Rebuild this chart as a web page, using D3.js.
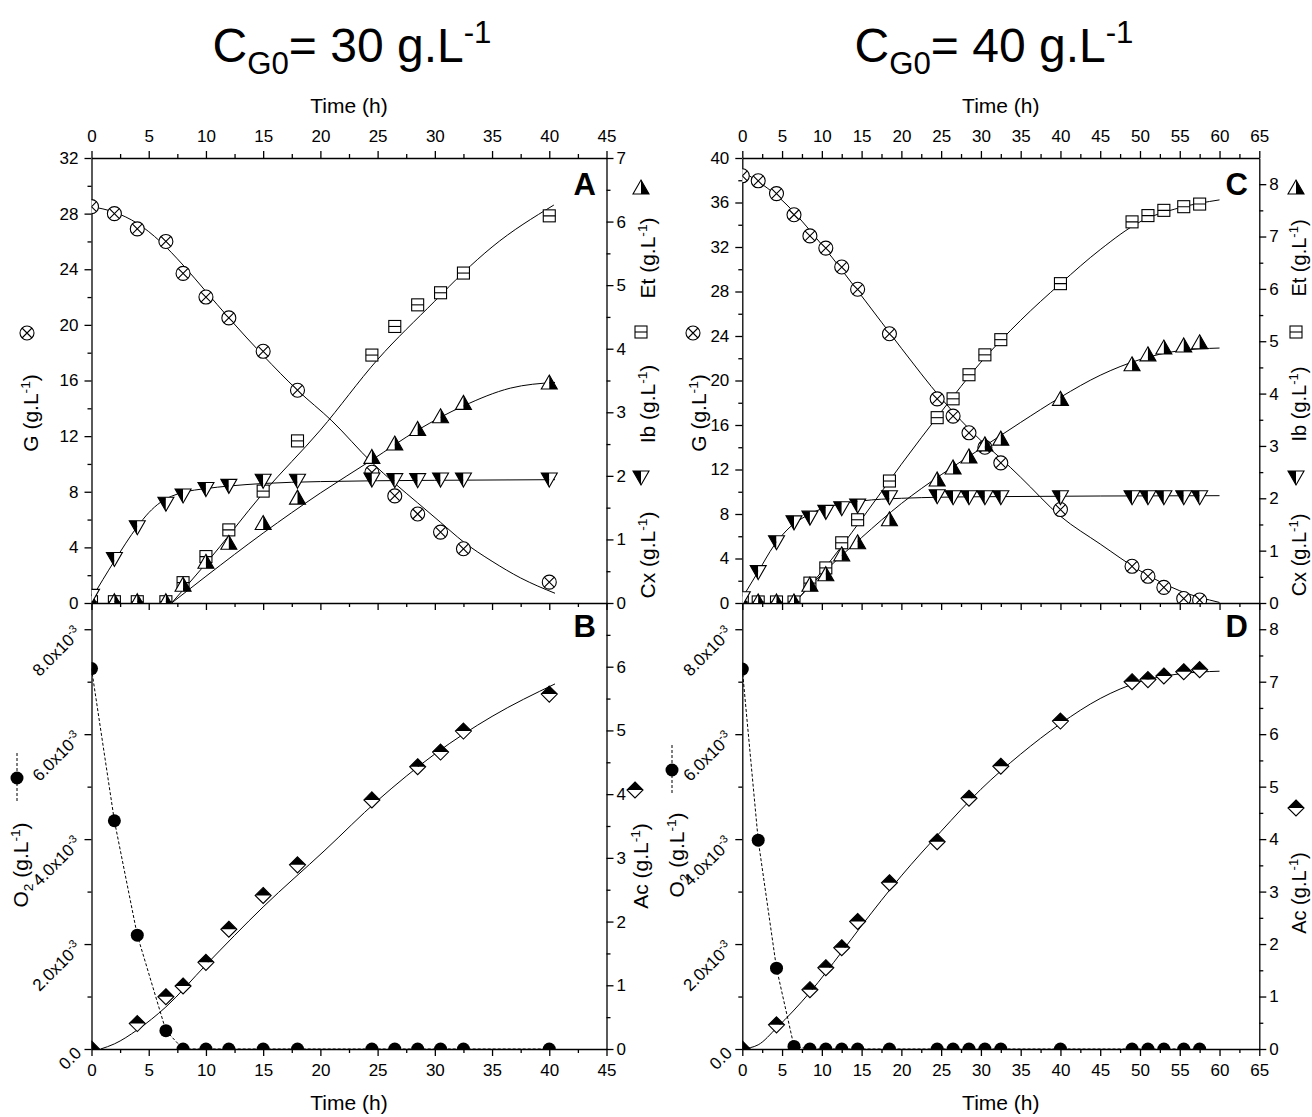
<!DOCTYPE html>
<html>
<head>
<meta charset="utf-8">
<script src="https://cdn.jsdelivr.net/npm/d3@7"></script>
<style>
  body { margin: 0; background: #fff; }
  svg { display: block; font-family: "Liberation Sans", Arial, sans-serif; }
</style>
</head>
<body>
<svg id="chart" width="1312" height="1117"></svg>
<script>
// ---------- data, CG0 = 30 g/L (panels A, B) ----------
const timeA    = [0, 2, 4, 6.5, 8, 10, 12, 15, 18, 24.5, 26.5, 28.5, 30.5, 32.5, 40];
const glucA    = [28.5, 28.0, 26.9, 26.0, 23.7, 22.0, 20.5, 18.1, 15.3, 9.4, 7.7, 6.4, 5.1, 3.9, 1.5];
const cxA      = [0.12, 0.70, 1.20, 1.57, 1.70, 1.80, 1.85, 1.93, 1.93, 1.95, 1.94, 1.94, 1.95, 1.95, 1.95];
const ibA      = [0.02, 0.02, 0.02, 0.02, 0.32, 0.73, 1.15, 1.76, 2.55, 3.90, 4.35, 4.69, 4.88, 5.19, 6.09];
const etA      = [0.01, 0.02, 0.02, 0.02, 0.28, 0.64, 0.94, 1.25, 1.65, 2.29, 2.50, 2.73, 2.93, 3.14, 3.46];
const o2A      = [7.25e-3, 4.35e-3, 2.17e-3, 0.35e-3, 0, 0, 0, 0, 0, 0, 0, 0, 0, 0, 0];
const acTimeA  = [0, 4, 6.5, 8, 10, 12, 15, 18, 24.5, 28.5, 30.5, 32.5, 40];
const acA      = [0, 0.40, 0.82, 0.99, 1.36, 1.88, 2.41, 2.89, 3.91, 4.43, 4.66, 4.99, 5.57];

// model curves, [t, value]
const fitGlucA = [[0,28.5],[2,28.1],[4,27.3],[6,26.0],[8,24.3],[10,22.4],[12,20.5],[15,17.8],[18,15.3],[21,13.1],[24.5,10.1],[26.5,8.6],[28.5,7.2],[30.5,5.8],[32.5,4.4],[35,3.0],[37.5,1.8],[40.5,0.7]];
const fitCxA   = [[0,0.07],[2,0.66],[4,1.2],[5,1.42],[6,1.58],[7,1.68],[8,1.74],[10,1.8],[12,1.84],[15,1.88],[20,1.91],[30,1.93],[40.5,1.94]];
const fitIbA   = [[7,0],[10,0.62],[15,1.73],[20,2.72],[25,3.83],[30,4.75],[32.5,5.2],[35,5.6],[40.4,6.26]];
const fitEtA   = [[7,0],[10,0.42],[15,1.1],[20,1.73],[24.5,2.25],[28.5,2.72],[32.5,3.1],[36.6,3.38],[40.5,3.47]];
const fitAcA   = [[0.8,0],[2,0.08],[4,0.3],[6.5,0.66],[10,1.32],[15,2.23],[20.4,3.12],[25,3.9],[30,4.63],[35,5.22],[40.5,5.73]];

// ---------- data, CG0 = 40 g/L (panels C, D) ----------
const timeC    = [0, 2, 4.3, 6.5, 8.5, 10.5, 12.5, 14.5, 18.5, 24.5, 26.5, 28.5, 30.5, 32.5, 40, 49, 51, 53, 55.5, 57.5];
const glucC    = [38.4, 37.95, 36.8, 34.9, 33.0, 31.9, 30.2, 28.2, 24.2, 18.35, 16.8, 15.3, 14.0, 12.6, 8.4, 3.3, 2.4, 1.4, 0.4, 0.27];
const cxC      = [0.1, 0.6, 1.17, 1.55, 1.64, 1.75, 1.82, 1.87, 2.03, 2.05, 2.03, 2.03, 2.03, 2.03, 2.03, 2.03, 2.03, 2.03, 2.03, 2.03];
const ibC      = [0.02, 0.02, 0.02, 0.02, 0.38, 0.67, 1.15, 1.59, 2.33, 3.54, 3.90, 4.36, 4.74, 5.03, 6.10, 7.28, 7.40, 7.50, 7.57, 7.62];
const etC      = [0.01, 0.02, 0.02, 0.02, 0.34, 0.54, 0.92, 1.15, 1.59, 2.35, 2.58, 2.79, 3.02, 3.13, 3.89, 4.55, 4.74, 4.87, 4.91, 4.97];
const o2C      = [7.24e-3, 3.98e-3, 1.54e-3, 0.05e-3, 0, 0, 0, 0, 0, 0, 0, 0, 0, 0, 0, 0, 0, 0, 0, 0];
const acTimeC  = [0, 4.3, 8.5, 10.5, 12.5, 14.5, 18.5, 24.5, 28.5, 32.5, 40, 49, 51, 53, 55.5, 57.5];
const acC      = [0, 0.46, 1.13, 1.55, 1.93, 2.43, 3.17, 3.95, 4.78, 5.39, 6.25, 7.0, 7.04, 7.11, 7.19, 7.23];

const fitGlucC = [[0,38.8],[5,36.2],[10,32.2],[15,27.6],[20,22.9],[25,18.4],[30,14.6],[32.5,13.0],[35,11.3],[40,7.8],[45,5.3],[50,2.9],[55,1.1],[60,0.05]];
const fitCxC   = [[0,0.1],[2,0.6],[4,1.1],[6,1.45],[8,1.66],[10,1.8],[12,1.88],[15,1.95],[20,2.0],[30,2.03],[60,2.05]];
const fitIbC   = [[6.5,0],[10,0.6],[15,1.6],[20,2.65],[25,3.65],[30,4.6],[35,5.4],[40,6.1],[45,6.75],[50,7.28],[55,7.55],[60,7.7]];
const fitEtC   = [[6.5,0],[10,0.55],[15,1.25],[20,1.9],[25,2.45],[30,2.95],[35,3.45],[40,3.93],[45,4.35],[50,4.65],[55,4.82],[60,4.87]];
const fitAcC   = [[0,0],[2,0.08],[4.3,0.4],[8.5,1.08],[12.5,1.85],[15,2.35],[20,3.3],[25,4.15],[30,4.95],[35,5.62],[40,6.2],[45,6.68],[50,7.0],[55,7.15],[60,7.2]];

const titles = ['30', '40'];

// ---------- layout ----------
const Y_TOP = 158, Y_MID = 603, Y_BOT = 1049;
const FONT = 17;

const svg = d3.select('#chart');
const defs = svg.append('defs');

// small helper for text with sub/superscripts
function rich(sel, parts, size) {
  let shift = 0;
  parts.forEach(p => {
    const small = p.sub || p.sup;
    const target = p.sub ? size * 0.25 : p.sup ? -size * 0.4 : 0;
    sel.append('tspan')
      .attr('dy', target - shift)
      .attr('font-size', small ? size * 0.65 : size)
      .text(p.t);
    shift = target;
  });
  return sel;
}
const unit = name => [{t: name + ' (g.L'}, {t: '-1', sup: true}, {t: ')'}];

// markers
function marker(g, type, x, y) {
  const m = g.append('g').attr('transform', `translate(${x},${y})`)
    .attr('stroke', '#000').attr('stroke-width', 1.1).attr('stroke-linejoin', 'miter');
  if (type === 'cross') {
    m.append('circle').attr('r', 7).attr('fill', '#fff');
    m.append('path').attr('d', 'M-5,-5L5,5M5,-5L-5,5').attr('fill', 'none');
  } else if (type === 'square') {
    m.append('rect').attr('x', -6).attr('y', -6).attr('width', 12).attr('height', 12).attr('fill', '#fff');
    m.append('path').attr('d', 'M-6,0H6');
  } else if (type === 'up') {
    m.append('path').attr('d', 'M0,-8L-8,6L0,6Z').attr('fill', '#fff').attr('stroke', 'none');
    m.append('path').attr('d', 'M0,-8L8,6L0,6Z').attr('fill', '#000').attr('stroke', 'none');
    m.append('path').attr('d', 'M0,-8L8,6L-8,6Z').attr('fill', 'none');
  } else if (type === 'down') {
    m.append('path').attr('d', 'M0,8L-8,-6L0,-6Z').attr('fill', '#000').attr('stroke', 'none');
    m.append('path').attr('d', 'M0,8L8,-6L0,-6Z').attr('fill', '#fff').attr('stroke', 'none');
    m.append('path').attr('d', 'M0,8L8,-6L-8,-6Z').attr('fill', 'none');
  } else if (type === 'diamond') {
    m.append('path').attr('d', 'M-8,0L0,8L8,0Z').attr('fill', '#fff').attr('stroke', 'none');
    m.append('path').attr('d', 'M-8,0L0,-8L8,0Z').attr('fill', '#000').attr('stroke', 'none');
    m.append('path').attr('d', 'M0,-8L8,0L0,8L-8,0Z').attr('fill', 'none');
  } else if (type === 'dot') {
    m.append('circle').attr('r', 6.5).attr('fill', '#000').attr('stroke', 'none');
  }
}

function styleAxis(g) {
  g.attr('font-family', null).attr('font-size', FONT);
  g.selectAll('path, line').attr('stroke', '#000').attr('stroke-width', 1.3);
  g.selectAll('text').attr('fill', '#000');
}

function axis(gen, transform, major, minor, fmt, pad) {
  const a = svg.append('g').attr('transform', transform)
    .call(gen.tickValues(major).tickSize(7).tickSizeOuter(0).tickPadding(pad).tickFormat(fmt))
    .call(styleAxis);
  if (minor) {
    svg.append('g').attr('transform', transform)
      .call(gen.tickValues(minor).tickSize(4).tickSizeOuter(0).tickFormat(''))
      .call(styleAxis)
      .call(g => g.select('.domain').remove());
  }
  return a;
}

function rotTitle(x, y, parts, size = 21) {
  const t = svg.append('text')
    .attr('transform', `translate(${x},${y}) rotate(-90)`)
    .attr('text-anchor', 'middle').attr('fill', '#000');
  rich(t, parts, size);
}

function drawColumn(c, d) {
  const x  = d3.scaleLinear().domain([0, c.tMax]).range([c.x0, c.x1]);
  const yG = d3.scaleLinear().domain([0, c.gMax]).range([Y_MID, Y_TOP]);
  const yR = d3.scaleLinear().domain([0, c.rMax]).range([Y_MID, Y_TOP]);
  const yO = d3.scaleLinear().domain([0, 8.5e-3]).range([Y_BOT, Y_MID]);
  const yA = d3.scaleLinear().domain([0, c.aMax]).range([Y_BOT, Y_MID]);

  const tMajor = d3.range(0, c.tMax + 0.01, 5);
  const tMinor = d3.range(2.5, c.tMax, 5);

  // title
  const tt = svg.append('text').attr('x', c.title).attr('y', 62)
    .attr('text-anchor', 'middle').attr('fill', '#000');
  rich(tt, [{t: 'C'}, {t: 'G0', sub: true}, {t: '= ' + d.cg0 + ' g.L'}, {t: '-1', sup: true}], 48);

  svg.append('text').attr('x', (c.x0 + c.x1) / 2).attr('y', 113)
    .attr('text-anchor', 'middle').attr('font-size', 21).text('Time (h)');
  svg.append('text').attr('x', (c.x0 + c.x1) / 2).attr('y', 1110)
    .attr('text-anchor', 'middle').attr('font-size', 21).text('Time (h)');

  // axes
  axis(d3.axisTop(x), `translate(0,${Y_TOP})`, tMajor, tMinor, d3.format('d'), 9);
  axis(d3.axisBottom(x), `translate(0,${Y_MID})`, tMajor, tMinor, '', 9);
  axis(d3.axisBottom(x), `translate(0,${Y_BOT})`, tMajor, tMinor, d3.format('d'), 8);

  axis(d3.axisLeft(yG), `translate(${c.x0},0)`, d3.range(0, c.gMax + 0.01, 4), d3.range(2, c.gMax, 4), d3.format('d'), 6);
  axis(d3.axisRight(yR), `translate(${c.x1},0)`, d3.range(0, Math.floor(c.rMax) + 0.01, 1), d3.range(0.5, c.rMax, 1), d3.format('d'), 3);
  axis(d3.axisRight(yA), `translate(${c.x1},0)`, d3.range(0, c.aLabelMax + 0.01, 1), d3.range(0.5, c.aMax, 1), d3.format('d'), 3);

  const o2Major = [0, 2e-3, 4e-3, 6e-3, 8e-3];
  axis(d3.axisLeft(yO), `translate(${c.x0},0)`, o2Major, [1e-3, 3e-3, 5e-3, 7e-3], '', 6);
  o2Major.forEach(v => {
    const t = svg.append('text')
      .attr('transform', `translate(${c.x0 - 9},${yO(v) + 5}) rotate(-45)`)
      .attr('text-anchor', 'end').attr('fill', '#000');
    if (v === 0) rich(t, [{t: '0.0'}], FONT);
    else rich(t, [{t: (v * 1000).toFixed(1) + 'x10'}, {t: '-3', sup: true}], FONT);
  });

  // panel letters
  svg.append('text').attr('x', c.letterX).attr('y', 195).attr('text-anchor', 'end')
    .attr('font-size', 31).attr('font-weight', 'bold').text(c.letters[0]);
  svg.append('text').attr('x', c.letterX).attr('y', 637).attr('text-anchor', 'end')
    .attr('font-size', 31).attr('font-weight', 'bold').text(c.letters[1]);

  // axis titles + legend glyphs
  marker(svg, 'cross', c.gGlyphX, 333);
  rotTitle(c.gTitleX, 413, unit('G'));
  marker(svg, 'up', c.rGlyphX, 188);
  rotTitle(c.rTitleX, 258, unit('Et'), c.rSize);
  marker(svg, 'square', c.rGlyphX, 332);
  rotTitle(c.rTitleX, 404, unit('Ib'), c.rSize);
  marker(svg, 'down', c.rGlyphX, 477);
  rotTitle(c.rTitleX, 555, unit('Cx'), c.rSize);

  svg.append('line').attr('x1', c.oGlyphX).attr('x2', c.oGlyphX)
    .attr('y1', c.oGlyphY - 25).attr('y2', c.oGlyphY + 25)
    .attr('stroke', '#000').attr('stroke-width', 1).attr('stroke-dasharray', '3,2');
  marker(svg, 'dot', c.oGlyphX, c.oGlyphY);
  rotTitle(c.oTitleX, c.oTitleY, [{t: 'O'}, {t: '2', sub: true}, {t: ' (g.L'}, {t: '-1', sup: true}, {t: ')'}]);
  marker(svg, 'diamond', c.aGlyphX, c.aGlyphY);
  rotTitle(c.aTitleX, c.aTitleY, unit('Ac'), c.rSize);

  // clip regions
  defs.append('clipPath').attr('id', 'clipT' + c.key).append('rect')
    .attr('x', c.x0).attr('y', Y_TOP).attr('width', c.x1 - c.x0).attr('height', Y_MID - Y_TOP);
  defs.append('clipPath').attr('id', 'clipB' + c.key).append('rect')
    .attr('x', c.x0).attr('y', Y_MID).attr('width', c.x1 - c.x0).attr('height', Y_BOT - Y_MID);
  const top = svg.append('g').attr('clip-path', `url(#clipT${c.key})`);
  const bot = svg.append('g').attr('clip-path', `url(#clipB${c.key})`);

  const fitLine = (g, pts, y) => g.append('path')
    .attr('d', d3.line().x(p => x(p[0])).y(p => y(p[1])).curve(d3.curveMonotoneX)(pts))
    .attr('fill', 'none').attr('stroke', '#000').attr('stroke-width', 1);

  fitLine(top, d.fitG, yG);
  fitLine(top, d.fitIb, yR);
  fitLine(top, d.fitEt, yR);
  fitLine(top, d.fitCx, yR);
  fitLine(bot, d.fitAc, yA);

  // O2 dashed connection
  bot.append('path')
    .attr('d', d3.line().x(t => x(t)).y((t, i) => yO(d.o2[i]))(d.time))
    .attr('fill', 'none').attr('stroke', '#000').attr('stroke-width', 1).attr('stroke-dasharray', '3,2');

  d.time.forEach((t, i) => marker(top, 'cross', x(t), yG(d.gluc[i])));
  d.time.forEach((t, i) => marker(top, 'square', x(t), yR(d.ib[i])));
  d.time.forEach((t, i) => marker(top, 'up', x(t), yR(d.et[i])));
  d.time.forEach((t, i) => marker(top, 'down', x(t), yR(d.cx[i])));
  d.acTime.forEach((t, i) => marker(bot, 'diamond', x(t), yA(d.ac[i])));
  d.time.forEach((t, i) => marker(bot, 'dot', x(t), yO(d.o2[i])));
}

drawColumn(
  {key: 'L', x0: 91.5, x1: 606.5, tMax: 45, gMax: 32, rMax: 7, aMax: 7, aLabelMax: 6,
   title: 352, letters: ['A', 'B'], letterX: 596, rSize: 21,
   gGlyphX: 27, gTitleX: 38, rGlyphX: 641, rTitleX: 655,
   oGlyphX: 17, oGlyphY: 778, oTitleX: 28, oTitleY: 865,
   aGlyphX: 635, aGlyphY: 790, aTitleX: 648, aTitleY: 866},
  {cg0: titles[0], time: timeA, gluc: glucA, cx: cxA, ib: ibA, et: etA, o2: o2A,
   acTime: acTimeA, ac: acA, fitG: fitGlucA, fitCx: fitCxA, fitIb: fitIbA, fitEt: fitEtA, fitAc: fitAcA});

drawColumn(
  {key: 'R', x0: 742.3, x1: 1259.3, tMax: 65, gMax: 40, rMax: 8.5, aMax: 8.5, aLabelMax: 8,
   title: 994, letters: ['C', 'D'], letterX: 1248, rSize: 20,
   gGlyphX: 693, gTitleX: 706, rGlyphX: 1296, rTitleX: 1306,
   oGlyphX: 672, oGlyphY: 770, oTitleX: 684, oTitleY: 855,
   aGlyphX: 1296, aGlyphY: 808, aTitleX: 1306, aTitleY: 893},
  {cg0: titles[1], time: timeC, gluc: glucC, cx: cxC, ib: ibC, et: etC, o2: o2C,
   acTime: acTimeC, ac: acC, fitG: fitGlucC, fitCx: fitCxC, fitIb: fitIbC, fitEt: fitEtC, fitAc: fitAcC});
</script>
</body>
</html>
